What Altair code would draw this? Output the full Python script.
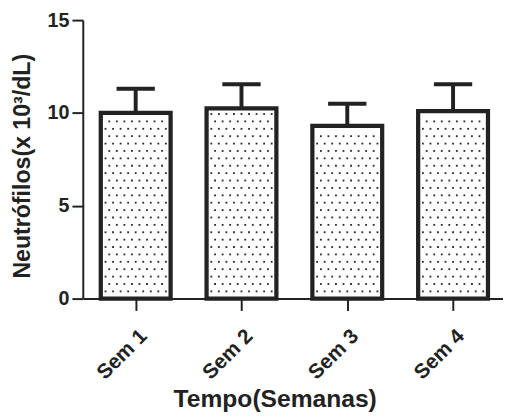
import altair as alt
import pandas as pd

categories = ["Sem 1", "Sem 2", "Sem 3", "Sem 4"]
means = [10.0, 10.25, 9.3, 10.1]
sds = [1.3, 1.3, 1.2, 1.45]
y_ticks = [0, 5, 10, 15]
x_ticks = [1, 2, 3, 4]

positions = list(range(1, len(categories) + 1))
HALF_BAR = 0.33
HALF_CAP = 0.181

bars = pd.DataFrame({"pos": positions, "cat": categories, "mean": means, "sd": sds})
bars["upper"] = bars["mean"] + bars["sd"]
bars["x0"] = bars["pos"] - HALF_BAR
bars["x1"] = bars["pos"] + HALF_BAR
bars["c0"] = bars["pos"] - HALF_CAP
bars["c1"] = bars["pos"] + HALF_CAP

# dotted texture inside bars (staggered grid)
DX = 0.0713
DY = 0.398
rows = []
for p, m in zip(positions, means):
    k = 0
    while True:
        yv = 0.39 + k * DY
        if yv > m - 0.3:
            break
        offs = [j * DX for j in range(-4, 5)] if k % 2 == 0 else [(j + 0.5) * DX for j in range(-4, 4)]
        for o in offs:
            rows.append({"x": p + o, "y": yv})
        k += 1
dots = pd.DataFrame(rows)

FONT = "Liberation Sans"
INK = "#222222"
xscale = alt.Scale(domain=[0.5, 4.472], nice=False, zero=False)
yscale = alt.Scale(domain=[0, 15], nice=False)

x_axis = alt.Axis(
    values=x_ticks,
    labelExpr="'Sem ' + datum.value",
    title="Tempo(Semanas)",
    labelAngle=-45,
    labelFontSize=21,
    labelFontWeight="bold",
    labelFont=FONT,
    labelColor=INK,
    labelPadding=15,
    tickSize=12,
    tickWidth=2,
    tickColor=INK,
    domainColor=INK,
    domainWidth=2,
    grid=False,
    titleFont=FONT,
    titleFontSize=25,
    titleFontWeight="bold",
    titleColor=INK,
    titleX=195,
    titleY=110,
    titleAlign="center",
    titleBaseline="alphabetic",
)
y_axis = alt.Axis(
    values=y_ticks,
    title="Neutrófilos(x 10³/dL)",
    labelFontSize=20,
    labelFontWeight="bold",
    labelFont=FONT,
    labelColor=INK,
    labelPadding=3,
    tickSize=11,
    tickWidth=2,
    tickColor=INK,
    domainColor=INK,
    domainWidth=2,
    grid=False,
    titleFont=FONT,
    titleFontSize=23.5,
    titleFontWeight="bold",
    titleColor=INK,
    titleAngle=270,
    titleX=-61,
    titleY=148,
    titleAlign="center",
    titleBaseline="middle",
)

base = alt.Chart(bars)

bar_layer = base.mark_rect(fill="white", stroke=INK, strokeWidth=4.3).encode(
    x=alt.X("x0:Q", scale=xscale, axis=x_axis),
    x2="x1:Q",
    y=alt.Y("mean:Q", scale=yscale, axis=y_axis),
    y2=alt.datum(0),
)

dot_layer = alt.Chart(dots).mark_square(size=3.4, color="#2a2a2a", opacity=1).encode(
    x=alt.X("x:Q", scale=xscale),
    y=alt.Y("y:Q", scale=yscale),
)

err_line = base.mark_rule(color=INK, strokeWidth=4).encode(
    x=alt.X("pos:Q", scale=xscale),
    y=alt.Y("mean:Q", scale=yscale),
    y2="upper:Q",
)
err_cap = base.mark_rule(color=INK, strokeWidth=4).encode(
    x=alt.X("c0:Q", scale=xscale),
    x2="c1:Q",
    y=alt.Y("upper:Q", scale=yscale),
)

chart = (
    alt.layer(err_line, err_cap, bar_layer, dot_layer)
    .properties(
        width=427,
        height=283,
        autosize=alt.AutoSizeParams(type="none"),
        padding={"left": 76, "top": 9, "right": 0, "bottom": 117},
        background="white",
    )
    .configure_view(stroke=None)
)

chart.save("out.html", embed_options={"renderer": "svg", "actions": False})
